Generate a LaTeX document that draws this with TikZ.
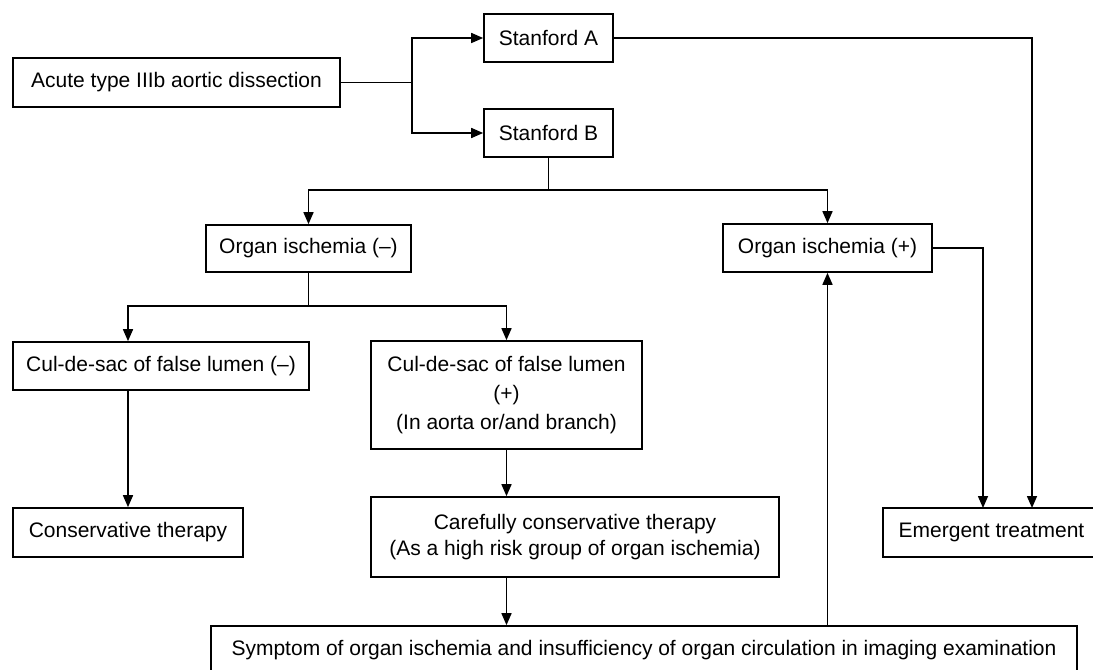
\documentclass[tikz,border=0pt]{standalone}
\usepackage{fontspec}
\setmainfont{Liberation Sans}
\usetikzlibrary{arrows.meta}

\begin{document}
\begin{tikzpicture}[x=0.75pt, y=-0.75pt,
  box/.style={draw, line width=1.25pt, inner sep=0pt, align=center, font=\fontsize{15.75}{22}\selectfont},
  boxsize/.style 2 args={minimum width=#1*0.75pt, minimum height=#2*0.75pt},
  link/.style={line width=1.2pt},
  arr/.style={line width=1.2pt, -{Triangle[length=9pt,width=7.5pt]}}]
  % Frame
  \useasboundingbox (0,0) rectangle (1093,670);

  % Draw boxes
  \node [box, boxsize={327}{49}] (acute) at (176.5,82.5) {Acute type IIIb aortic dissection};
  \node [box, boxsize={129}{48}] (stanA) at (548.5,38) {Stanford A};
  \node [box, boxsize={129}{48}] (stanB) at (548.5,133) {Stanford B};
  \node [box, boxsize={205}{47}] (orgneg) at (308.5,248.5) {Organ ischemia (–)};
  \node [box, boxsize={209}{48}] (orgpos) at (827.5,248) {Organ ischemia (+)};
  \node [box, boxsize={296}{48}] (culneg) at (161,366) {Cul-de-sac of false lumen (–)};
  \node [box, boxsize={271}{108}] (culpos) at (506.5,395) {Cul-de-sac of false lumen\\(+)\\(In aorta or/and branch)};
  \node [box, boxsize={230}{49}] (cons) at (128,532.5) {Conservative therapy};
  \node [box, boxsize={408}{80}, font=\fontsize{15.75}{19}\selectfont] (care) at (575,537) {Carefully conservative therapy\\(As a high risk group of organ ischemia)};
  \node [box, boxsize={217}{49}] (emerg) at (991.5,532.5) {Emergent treatment};
  \node [box, boxsize={866}{48}] (symp) at (644,650) {Symptom of organ ischemia and insufficiency of organ circulation in imaging examination};

  % Draw split points
  \coordinate (split1) at (412,82.5);
  \coordinate (split2) at (548.5,190);
  \coordinate (split3) at (308.5,306);
  \coordinate (emgin1) at (983,508);
  \coordinate (emgin2) at (1032,508);

  % Draw connectors
  \draw [link] (acute.east) -- (split1);
  \draw [arr] (split1) |- (stanA.west);
  \draw [arr] (split1) |- (stanB.west);
  \draw [link] (stanB.south) -- (split2);
  \draw [arr] (split2) -| (orgneg.north);
  \draw [arr] (split2) -| (orgpos.north);
  \draw [link] (orgneg.south) -- (split3);
  \draw [arr] (split3) -| (culneg.north -| cons.north);
  \draw [arr] (split3) -| (culpos.north);
  \draw [arr] (culneg.south -| cons.north) -- (cons.north);
  \draw [arr] (culpos.south) -- (care.north -| culpos.south);
  \draw [arr] (care.south -| culpos.south) -- (symp.north -| culpos.south);
  \draw [arr] (symp.north -| orgpos.south) -- (orgpos.south);
  \draw [arr] (orgpos.east) -| (emgin1);
  \draw [arr] (stanA.east) -| (emgin2);
\end{tikzpicture}
\end{document}
